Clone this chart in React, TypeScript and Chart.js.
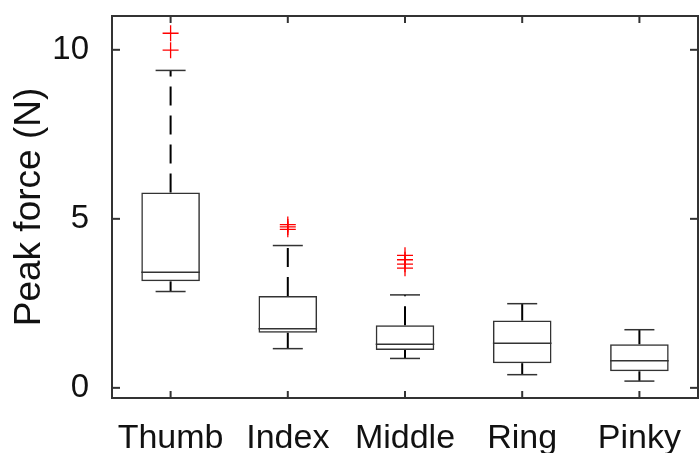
import React, { useEffect, useRef } from 'react';
import { Chart, registerables } from 'chart.js';

Chart.register(...registerables);

// ---- Data ----
const categories = ['Thumb', 'Index', 'Middle', 'Ring', 'Pinky'];
const lowerWhisker = [2.85, 1.16, 0.87, 0.39, 0.2];
const q1 = [3.15, 1.63, 1.12, 0.73, 0.49];
const medians = [3.42, 1.75, 1.29, 1.32, 0.8];
const q3 = [5.78, 2.72, 1.85, 1.99, 1.29];
const upperWhisker = [9.39, 4.21, 2.75, 2.49, 1.72];
const thumbOutliers = [10.49, 9.99];
const indexOutliers = [4.83, 4.76, 4.69];
const middleOutliers = [3.92, 3.79, 3.66, 3.54];
const yTicks = [0, 5, 10];
const yMin = -0.3;
const yMax = 11;
const yTitle = 'Peak force (N)';

const FONT = '"Liberation Sans", Arial, Helvetica, sans-serif';
const TEXT = '#111111';
const AXIS = '#333333';

const boxPlugin = {
  id: 'boxWhiskers',
  afterDatasetsDraw(chart: any) {
    const x = chart.scales.x;
    const y = chart.scales.y;
    const ctx = chart.ctx;
    const cat = x.getPixelForValue(1) - x.getPixelForValue(0);
    const boxHalf = cat * 0.25;
    const capHalf = cat * 0.128;
    const line = (x1: number, y1: number, x2: number, y2: number) => {
      ctx.beginPath();
      ctx.moveTo(x1, y1);
      ctx.lineTo(x2, y2);
      ctx.stroke();
    };
    ctx.save();
    categories.forEach((_, i) => {
      const cx = x.getPixelForValue(i);
      const yLo = y.getPixelForValue(lowerWhisker[i]);
      const yQ1 = y.getPixelForValue(q1[i]);
      const yMed = y.getPixelForValue(medians[i]);
      const yQ3 = y.getPixelForValue(q3[i]);
      const yUp = y.getPixelForValue(upperWhisker[i]);
      // median
      ctx.setLineDash([]);
      ctx.strokeStyle = AXIS;
      ctx.lineWidth = 1.5;
      line(cx - boxHalf, yMed, cx + boxHalf, yMed);
      // whiskers (dashed)
      ctx.strokeStyle = '#000000';
      ctx.lineWidth = 2;
      ctx.setLineDash([19, 10]);
      line(cx, yQ3, cx, yUp);
      line(cx, yQ1, cx, yLo);
      // caps
      ctx.setLineDash([]);
      ctx.strokeStyle = AXIS;
      ctx.lineWidth = 1.5;
      line(cx - capHalf, yUp, cx + capHalf, yUp);
      line(cx - capHalf, yLo, cx + capHalf, yLo);
    });
    ctx.restore();
  },
  afterDraw(chart: any) {
    const { left, top, right, bottom } = chart.chartArea;
    const x = chart.scales.x;
    const y = chart.scales.y;
    const ctx = chart.ctx;
    ctx.save();
    ctx.setLineDash([]);
    ctx.strokeStyle = AXIS;
    ctx.lineWidth = 2;
    ctx.strokeRect(left, top, right - left, bottom - top);
    const line = (x1: number, y1: number, x2: number, y2: number) => {
      ctx.beginPath();
      ctx.moveTo(x1, y1);
      ctx.lineTo(x2, y2);
      ctx.stroke();
    };
    y.ticks.forEach((t: any) => {
      const py = y.getPixelForValue(t.value);
      line(left, py, left + 8, py);
      line(right - 8, py, right, py);
    });
    categories.forEach((_, i) => {
      const px = x.getPixelForValue(i);
      line(px, bottom, px, bottom - 7);
      line(px, top, px, top + 7);
    });
    ctx.restore();
  },
};

export default function App() {
  const ref = useRef<HTMLCanvasElement | null>(null);

  useEffect(() => {
    if (!ref.current) return;
    const outlierPoints = [
      ...thumbOutliers.map((v) => ({ x: categories[0], y: v })),
      ...indexOutliers.map((v) => ({ x: categories[1], y: v })),
      ...middleOutliers.map((v) => ({ x: categories[2], y: v })),
    ];
    const chart = new Chart(ref.current, {
      type: 'bar',
      data: {
        labels: categories,
        datasets: [
          {
            type: 'bar',
            label: 'IQR',
            data: categories.map((_, i) => [q1[i], q3[i]]) as any,
            backgroundColor: 'rgba(0,0,0,0)',
            borderColor: AXIS,
            borderWidth: 1.5,
            borderSkipped: false,
            categoryPercentage: 1,
            barPercentage: 0.5,
          },
          {
            type: 'scatter',
            label: 'Outliers',
            data: outlierPoints as any,
            pointStyle: 'cross',
            pointRadius: 8,
            borderColor: '#ff0000',
            backgroundColor: '#ff0000',
            borderWidth: 1.3,
          } as any,
        ],
      },
      options: {
        responsive: false,
        animation: false,
        layout: { autoPadding: false, padding: { left: 0, right: 2, top: 16, bottom: 0 } },
        plugins: {
          legend: { display: false },
          tooltip: { enabled: false },
        },
        scales: {
          x: {
            type: 'category',
            offset: true,
            grid: { display: false },
            border: { display: false },
            ticks: {
              font: { family: FONT, size: 34 },
              color: TEXT,
              padding: 12,
              maxRotation: 0,
              autoSkip: false,
            },
            afterFit: (scale: any) => {
              scale.height = 55;
              scale.paddingLeft = 0;
              scale.paddingRight = 0;
            },
          },
          y: {
            type: 'linear',
            min: yMin,
            max: yMax,
            grid: { display: false },
            border: { display: false },
            afterBuildTicks: (scale: any) => {
              scale.ticks = yTicks.map((v) => ({ value: v }));
            },
            ticks: {
              font: { family: FONT, size: 33 },
              color: TEXT,
              padding: 15,
            },
            title: {
              display: true,
              text: yTitle,
              font: { family: FONT, size: 37 },
              color: TEXT,
              padding: { top: 8, bottom: 0 },
            },
            afterFit: (scale: any) => {
              scale.width = 112;
              scale.paddingTop = 0;
              scale.paddingBottom = 0;
            },
          },
        },
      } as any,
      plugins: [boxPlugin],
    });
    return () => chart.destroy();
  }, []);

  return (
    <canvas
      ref={ref}
      width={700}
      height={453}
      style={{ position: 'fixed', left: 0, top: 0, width: 700, height: 453, display: 'block' }}
    />
  );
}
